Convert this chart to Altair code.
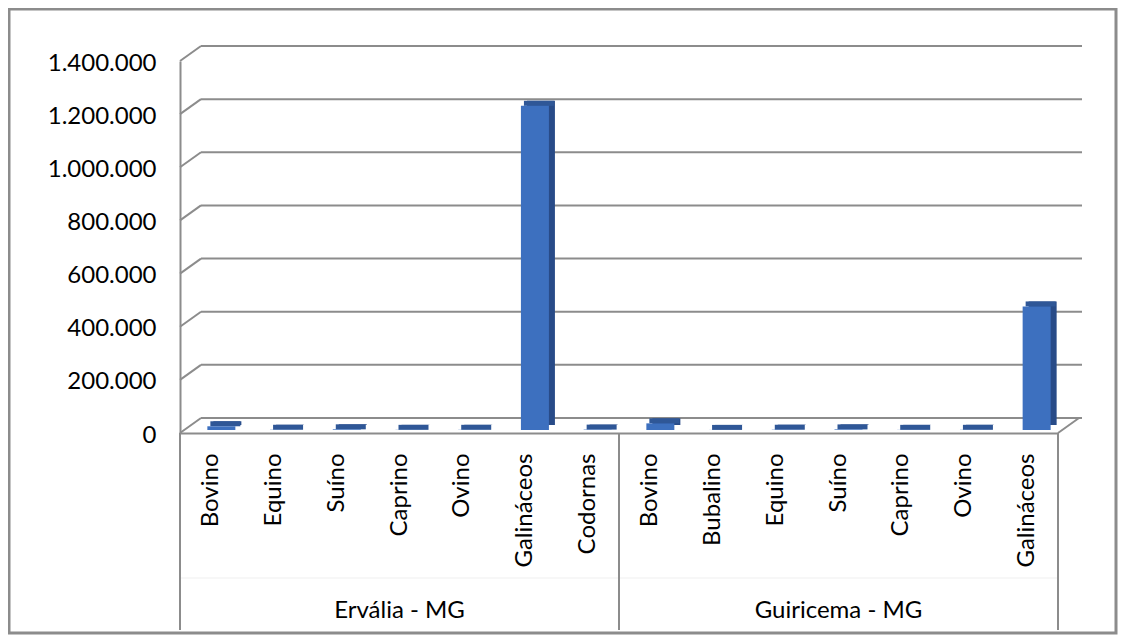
import altair as alt
import pandas as pd

groups = ["Ervália - MG"] * 7 + ["Guiricema - MG"] * 7
animals = ["Bovino", "Equino", "Suíno", "Caprino", "Ovino", "Galináceos", "Codornas",
           "Bovino", "Bubalino", "Equino", "Suíno", "Caprino", "Ovino", "Galináceos"]
values = [14000, 900, 2500, 600, 700, 1220000, 1500,
          25000, 300, 1000, 2200, 500, 700, 465000]
y_ticks = [0, 200000, 400000, 600000, 800000, 1000000, 1200000, 1400000]
group_names = ["Ervália - MG", "Guiricema - MG"]

keys = [g + "|" + a for g, a in zip(groups, animals)]
df = pd.DataFrame({"key": keys, "group": groups, "animal": animals, "value": values})
ticks_df = pd.DataFrame({"value": y_ticks})

W, H = 878, 372
step = W / len(keys)
FONT = "Lato"
FS = 24
GRID = "#8c8c8c"
DX, DY = 21, -15

xscale = alt.Scale(domain=keys, paddingInner=0, paddingOuter=0)
yscale = alt.Scale(domain=[0, 1400000], nice=False)

x_enc = alt.X("key:N", sort=keys, scale=xscale,
              axis=alt.Axis(title=None, labelExpr="split(datum.value, '|')[1]",
                            labelAngle=270, labelPadding=20, labelFontSize=FS,
                            labelFont=FONT, labelColor="black", ticks=False,
                            domainColor=GRID, domainWidth=2, labelOverlap=False,
                            labelLimit=300))
y_enc = alt.Y("value:Q", scale=yscale,
              axis=alt.Axis(title=None, values=y_ticks, grid=False, ticks=False,
                            labelExpr="replace(format(datum.value, ','), /,/g, '.')",
                            labelPadding=24, labelFontSize=FS, labelFont=FONT,
                            labelOffset=2,
                            labelColor="black", domainColor=GRID, domainWidth=2))

base = alt.Chart(df)
xk = alt.X("key:N", sort=keys, scale=xscale)
yv = alt.Y("value:Q", scale=yscale)

# back-wall gridlines
grid_h = alt.Chart(ticks_df).mark_rule(color=GRID, strokeWidth=2, yOffset=DY).encode(
    y=yv, x=alt.value(DX), x2=alt.value(W + 24))
grid_d = alt.Chart(ticks_df).mark_rule(color=GRID, strokeWidth=2, y2Offset=DY).encode(
    y=yv, y2="value:Q", x=alt.value(0), x2=alt.value(DX))
floor_r = alt.Chart(ticks_df.head(1)).mark_rule(color=GRID, strokeWidth=2, y2Offset=DY).encode(
    y=yv, y2="value:Q", x=alt.value(W), x2=alt.value(W + DX))

# 3D-ish columns: side face, top face, front face
side = base.mark_bar(color="#284B88", width=28, xOffset=16, yOffset=-8, y2Offset=-8).encode(
    x=x_enc, y=y_enc)
top = base.mark_rect(color="#2F5797", width=30, xOffset=14, yOffset=-8, y2Offset=-3).encode(
    x=xk, y=yv, y2="value:Q")
front = base.mark_bar(color="#3D70BF", width=28, xOffset=10, yOffset=-3, y2Offset=-3).encode(
    x=xk, y=yv)

# group separators
starts = pd.DataFrame({"key": [keys[0], keys[7]]})
ends = pd.DataFrame({"key": [keys[-1]]})
sep1 = alt.Chart(starts).mark_rule(color=GRID, strokeWidth=2, xOffset=-step / 2).encode(
    x=xk, y=alt.value(H), y2=alt.value(569))
sep2 = alt.Chart(ends).mark_rule(color=GRID, strokeWidth=2, xOffset=step / 2).encode(
    x=xk, y=alt.value(H), y2=alt.value(569))
level_line = alt.Chart(starts.head(1)).mark_rule(color="#efefef", strokeWidth=1).encode(
    x=alt.value(0), x2=alt.value(W), y=alt.value(517))

# group labels (centred under the middle category of each group)
glab = pd.DataFrame({"key": [keys[3], keys[10]], "label": group_names})
group_text = alt.Chart(glab).mark_text(fontSize=FS, font=FONT, color="black",
                                       baseline="middle").encode(
    x=xk, y=alt.value(550), text="label:N")

frame = alt.Chart(starts.head(1)).mark_rect(fillOpacity=0, stroke=GRID, strokeWidth=3).encode(
    x=alt.value(-171), x2=alt.value(936), y=alt.value(-52), y2=alt.value(572))

chart = alt.layer(frame, grid_h, grid_d, floor_r, level_line, sep1, sep2,
                  side, top, front, group_text).properties(
    width=W, height=H,
    autosize=alt.AutoSizeParams(type="none"),
    padding={"left": 172, "top": 53, "right": 60, "bottom": 203},
).configure_view(strokeWidth=0)

chart.save("out.html", embed_options={"renderer": "svg", "actions": False})
